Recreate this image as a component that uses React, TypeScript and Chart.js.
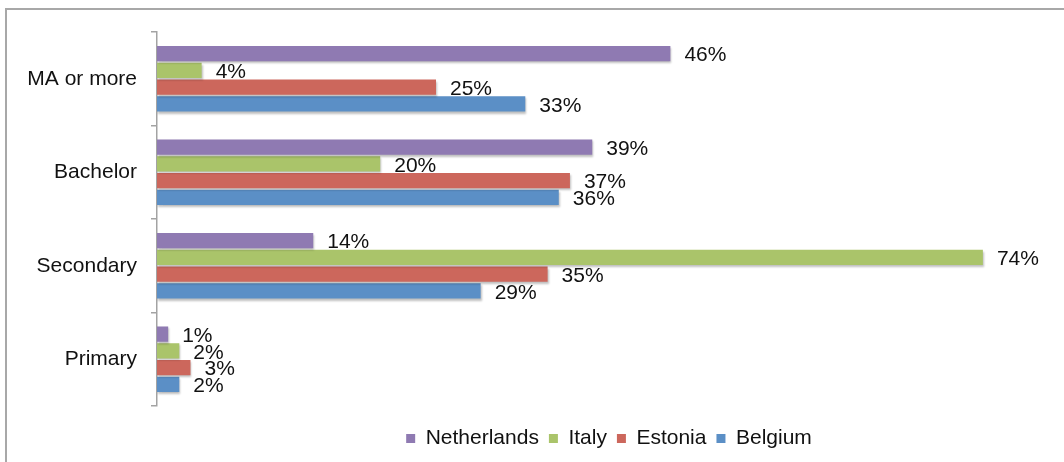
import React, { useEffect, useRef } from 'react';
import { Chart, registerables } from 'chart.js';

Chart.register(...registerables);

const categories = ['MA or more', 'Bachelor', 'Secondary', 'Primary'];
const seriesNames = ['Netherlands', 'Italy', 'Estonia', 'Belgium'];
const netherlands = [46, 39, 14, 1];
const italy = [4, 20, 74, 2];
const estonia = [25, 37, 35, 3];
const belgium = [33, 36, 29, 2];
const seriesColors = ['#8f7ab2', '#aac46a', '#cc675c', '#5b8fc6'];

const FAMILY = '"Liberation Sans", Arial, Helvetica, sans-serif';

const barLabelPlugin = {
  id: 'barLabels',
  beforeDatasetsDraw(chart: any) {
    const ctx = chart.ctx;
    ctx.save();
    ctx.shadowColor = 'rgba(0,0,0,0.25)';
    ctx.shadowBlur = 2;
    ctx.shadowOffsetX = 1;
    ctx.shadowOffsetY = 2;
  },
  afterDatasetsDraw(chart: any) {
    const ctx = chart.ctx;
    ctx.restore();
    ctx.save();
    ctx.font = `21px ${FAMILY}`;
    ctx.fillStyle = '#111';
    ctx.textAlign = 'left';
    ctx.textBaseline = 'middle';
    chart.data.datasets.forEach((ds: any, i: number) => {
      const meta = chart.getDatasetMeta(i);
      meta.data.forEach((el: any, j: number) => {
        ctx.fillText(ds.data[j] + '%', el.x + 14, el.y + 2);
      });
    });
    ctx.restore();
  },
};

export default function App() {
  const canvasRef = useRef<HTMLCanvasElement | null>(null);

  useEffect(() => {
    if (!canvasRef.current) return;
    const seriesData = [netherlands, italy, estonia, belgium];
    const chart = new Chart(canvasRef.current, {
      type: 'bar',
      data: {
        labels: categories,
        datasets: seriesNames.map((name, i) => ({
          label: name,
          data: seriesData[i],
          backgroundColor: seriesColors[i],
          borderWidth: 0,
          categoryPercentage: 0.717,
          barPercentage: 0.91,
        })),
      },
      options: {
        indexAxis: 'y',
        animation: false,
        responsive: false,
        layout: { padding: { top: 32, right: 3, bottom: 3, left: 0 } },
        plugins: {
          legend: {
            position: 'bottom',
            fullSize: false,
            labels: {
              boxWidth: 9,
              boxHeight: 9,
              padding: 10,
              color: '#111',
              font: { size: 21, family: FAMILY },
            },
          },
          tooltip: { enabled: false },
        },
        scales: {
          x: {
            display: true,
            min: 0,
            max: 81,
            ticks: { display: false },
            grid: { display: false },
            border: { display: false },
            afterFit: (s: any) => {
              s.height = 12;
            },
          },
          y: {
            afterFit: (s: any) => {
              s.width = 157;
            },
            grid: {
              drawOnChartArea: false,
              tickLength: 6,
              color: '#a3a3a3',
              lineWidth: 1.5,
              offset: true,
            },
            border: { display: true, color: '#a3a3a3', width: 1.5 },
            ticks: {
              color: '#111',
              padding: 14,
              font: { size: 21, family: FAMILY },
            },
          },
        },
      },
      plugins: [barLabelPlugin],
    } as any);
    return () => chart.destroy();
  }, []);

  return (
    <div
      style={{
        position: 'fixed',
        left: 0,
        top: 0,
        width: 1064,
        height: 462,
        background: '#fff',
        overflow: 'hidden',
      }}
    >
      <div
        style={{
          position: 'absolute',
          left: 5,
          top: 8,
          width: 1200,
          height: 600,
          borderTop: '2px solid #a8a8a8',
          borderLeft: '2px solid #a8a8a8',
        }}
      />
      <canvas
        ref={canvasRef}
        width={1064}
        height={462}
        style={{ position: 'absolute', left: 0, top: 0, width: 1064, height: 462 }}
      />
    </div>
  );
}
